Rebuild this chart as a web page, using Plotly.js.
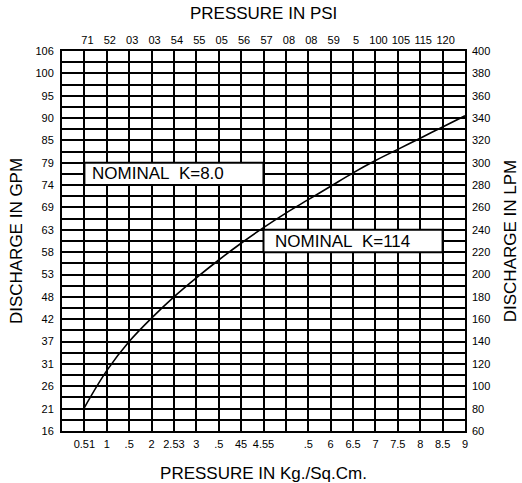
<!DOCTYPE html>
<html>
<head>
<meta charset="utf-8">
<script src="https://cdn.plot.ly/plotly-3.0.1.min.js"></script>
<style>html,body{margin:0;padding:0;background:#fff;}#chart{width:522px;height:483px;}</style>
</head>
<body>
<div id="chart"></div>
<script>
// Pressure in Kg./Sq.Cm. (curve samples)
const pressureKg = [0.5, 1, 1.5, 2, 2.5, 3, 3.5, 4, 4.5, 5, 5.5, 6, 6.5, 7, 7.5, 8, 8.5, 9];
// Discharge in LPM
const dischargeLpm = [81, 114, 140, 161, 180, 197, 213, 228, 242, 255, 267, 279, 291, 302, 312, 322, 332, 342];

// Bottom axis ticks (as printed)
const bottomTickVals = [0.5, 1, 1.5, 2, 2.5, 3, 3.5, 4, 4.5, 5, 5.5, 6, 6.5, 7, 7.5, 8, 8.5, 9];
const bottomTickText = ["0.51", "1", ".5", "2", "2.53", "3", ".5", "45", "4.55", "", ".5", "6", "6.5", "7", "7.5", "8", "8.5", "9"];

// Top axis ticks (PSI, as printed)
const topTickVals = [0.5, 1, 1.5, 2, 2.5, 3, 3.5, 4, 4.5, 5, 5.5, 6, 6.5, 7, 7.5, 8, 8.5];
const topTickText = ["71", "52", "03", "03", "54", "55", "05", "56", "57", "08", "08", "59", "5", "100", "105", "115", "120"];

// Left axis (GPM) and right axis (LPM) labels
const lpmTickVals = [60, 80, 100, 120, 140, 160, 180, 200, 220, 240, 260, 280, 300, 320, 340, 360, 380, 400];
const gpmTickText = ["16", "21", "26", "31", "37", "42", "48", "53", "58", "63", "69", "74", "79", "85", "90", "95", "100", "106"];
const lpmTickText = ["60", "80", "100", "120", "140", "160", "180", "200", "220", "240", "260", "280", "300", "320", "340", "360", "380", "400"];

// Nominal K labels
const labelTexts = ["NOMINAL\u00a0 K=8.0", "NOMINAL\u00a0 K=114"];
const labelBoxX = [[0.5, 4.5], [4.5, 8.5]];
const labelBoxY = [[280, 300], [220, 240]];

const FONT = "Liberation Sans, Arial, Helvetica, sans-serif";
const TITLE_FONT = {family: FONT, size: 17, color: '#000', weight: 'normal'};
const TICK_FONT = {family: FONT, size: 11, color: '#000'};

const traces = [
  {x: pressureKg, y: dischargeLpm, xaxis: 'x', yaxis: 'y', type: 'scatter', mode: 'lines',
   line: {color: '#000', width: 1.6, shape: 'spline'}, hoverinfo: 'skip', showlegend: false},
  {x: pressureKg, y: dischargeLpm, xaxis: 'x2', yaxis: 'y2', type: 'scatter', mode: 'lines',
   line: {color: 'rgba(0,0,0,0)', width: 0}, hoverinfo: 'skip', showlegend: false}
];

const shapes = labelBoxX.map((bx, i) => ({
  type: 'rect', xref: 'x', yref: 'y', x0: bx[0], x1: bx[1], y0: labelBoxY[i][0], y1: labelBoxY[i][1],
  fillcolor: '#fff', line: {color: '#000', width: 2}, layer: 'above'
}));

const annotations = labelBoxX.map((bx, i) => ({
  xref: 'x', yref: 'y', x: bx[0], y: (labelBoxY[i][0] + labelBoxY[i][1]) / 2,
  xanchor: 'left', yanchor: 'middle', xshift: i === 0 ? 6 : 9, showarrow: false,
  text: labelTexts[i], font: {family: FONT, size: 17, color: '#000'}
}));

const layout = {
  width: 522, height: 483,
  margin: {l: 62, r: 57, t: 51, b: 52},
  paper_bgcolor: '#fff', plot_bgcolor: '#fff',
  font: {family: FONT, color: '#000', size: 11},
  showlegend: false,
  title: {text: 'PRESSURE IN PSI', x: 0.505, xanchor: 'center', y: 1 - 13 / 483, yanchor: 'middle',
          yref: 'container', font: TITLE_FONT},
  xaxis: {
    range: [0, 9], tickmode: 'array', tickvals: bottomTickVals, ticktext: bottomTickText,
    ticks: '', showgrid: true, gridcolor: '#000', gridwidth: 2, zeroline: false,
    showline: true, linecolor: '#000', linewidth: 2, mirror: true,
    tickfont: TICK_FONT, tickangle: 0, ticklabelstandoff: 2,
    title: {text: 'PRESSURE IN Kg./Sq.Cm.', font: TITLE_FONT, standoff: 18},
    fixedrange: true
  },
  xaxis2: {
    range: [0, 9], overlaying: 'x', side: 'top', anchor: 'y', tickmode: 'array',
    tickvals: topTickVals, ticktext: topTickText, ticks: '', showgrid: false, zeroline: false,
    showline: false, tickfont: TICK_FONT, tickangle: 0, ticklabelstandoff: 4, ticklabelshift: 3,
    fixedrange: true
  },
  yaxis: {
    range: [60, 400], tickmode: 'array', tickvals: lpmTickVals, ticktext: gpmTickText,
    ticks: '', showgrid: true, gridcolor: '#000', gridwidth: 2, zeroline: false,
    minor: {tickmode: 'linear', tick0: 60, dtick: 10, showgrid: true, gridcolor: '#000', gridwidth: 2, ticks: ''},
    showline: true, linecolor: '#000', linewidth: 2, mirror: true,
    tickfont: TICK_FONT, ticklabelstandoff: 4,
    title: {text: 'DISCHARGE IN GPM', font: TITLE_FONT, standoff: 8},
    fixedrange: true
  },
  yaxis2: {
    range: [60, 400], overlaying: 'y', side: 'right', anchor: 'x', tickmode: 'array',
    tickvals: lpmTickVals, ticktext: lpmTickText, ticks: '', showgrid: false, zeroline: false,
    showline: false, tickfont: TICK_FONT, ticklabelstandoff: 6,
    title: {text: 'DISCHARGE IN LPM', font: TITLE_FONT, standoff: 14},
    fixedrange: true
  },
  shapes: shapes,
  annotations: annotations
};

Plotly.newPlot('chart', traces, layout, {staticPlot: true, displayModeBar: false});
</script>
</body>
</html>
